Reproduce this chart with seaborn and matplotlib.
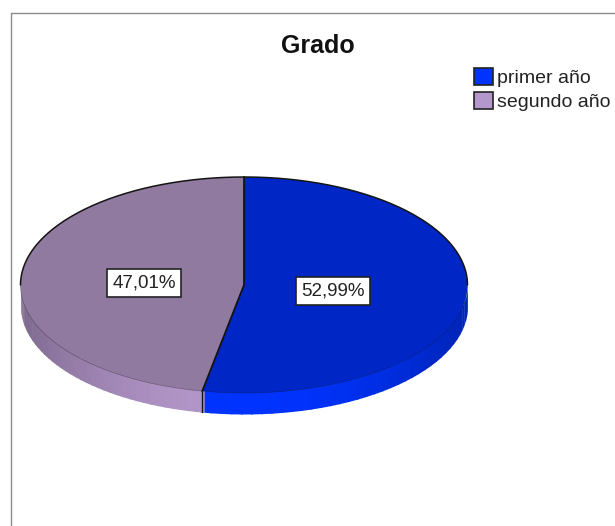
import numpy as np
import matplotlib
matplotlib.use("Agg")
import matplotlib.pyplot as plt
from matplotlib.colors import to_rgb
from matplotlib.lines import Line2D
from matplotlib.patches import Patch
import seaborn as sns

# Data
categories = ["primer año", "segundo año"]
shares = [52.99, 47.01]
share_labels = ["52,99%", "47,01%"]
legend_colors = ["#0033FF", "#B497CB"]
top_colors = ["#0027C6", "#917AA0"]

sns.set_theme(style="white")
plt.rcParams['font.family'] = ['Liberation Sans', 'DejaVu Sans']

W, H = 615, 526
CX, CY = 244, 285      # pie centre in pixels
RX, RY = 223.5, 108    # ellipse radii in pixels
DEPTH = 21 / RY        # height of the side in axis units

fig = plt.figure(figsize=(W / 100, H / 100), dpi=100, facecolor="white")
ax = fig.add_axes([0, 0, 1, 1])

wedges, _ = ax.pie(shares, startangle=90, counterclock=False, colors=top_colors,
                   wedgeprops={"edgecolor": "none", "linewidth": 0, "zorder": 5})

# Angle of the second boundary between the slices
split_deg = 90 - shares[0] / sum(shares) * 360 + 360

# Side of the disc, shaded in thin strips; strips run on under the top face to avoid seams
for (start, stop), base in zip([(split_deg - 0.6, 360), (180, split_deg)], legend_colors):
    edges = np.linspace(start, stop, 40)
    for t0, t1 in zip(edges[:-1], edges[1:]):
        th = np.radians(np.linspace(t0, t1 + 0.5, 6))
        mid = np.radians((t0 + t1) / 2)
        k = 0.7 + 0.3 * abs(np.sin(mid)) ** 2
        ax.fill_between(np.cos(th), np.sin(th) - DEPTH, np.sin(th) * 0.9,
                        color=np.array(to_rgb(base)) * k, lw=0, zorder=2)

# Dark outline on the upper arc and the slice boundaries, faint edge on the lower arc
dark = "#141414"
th = np.radians(np.linspace(0, 180, 200))
ax.plot(np.cos(th), np.sin(th), color=dark, lw=1.1, zorder=6)
th = np.radians(np.linspace(180, 360, 200))
ax.plot(np.cos(th), np.sin(th), color=dark, lw=0.5, alpha=0.35, zorder=6)
split = np.radians(split_deg)
ax.plot([0, 0], [1, 0], color=dark, lw=1.3, zorder=6)
ax.plot([0, np.cos(split)], [0, np.sin(split)], color=dark, lw=1.3, zorder=6)
ax.plot([np.cos(split)] * 2, [np.sin(split), np.sin(split) - DEPTH], color=dark, lw=1.0, zorder=4)

ax.set_aspect("auto")
ax.set_xlim(-CX / RX, (W - CX) / RX)
ax.set_ylim((CY - H) / RY, CY / RY)
ax.axis("off")


def px(x, y):
    return x / W, 1 - y / H


# Value labels
box = {"boxstyle": "square,pad=0.28", "facecolor": "white", "edgecolor": "#222222", "linewidth": 1.2}
for (x, y), lab in zip([(333, 291), (144, 283)], share_labels):
    fig.text(*px(x, y), lab, ha="center", va="center", fontsize=13.5, color="#222222", bbox=box, zorder=10)

fig.text(*px(318, 46), "Grado", ha="center", va="center", fontsize=18, fontweight="bold", color="#111111")

handles = [Patch(facecolor=c, edgecolor="#222222", linewidth=1.2) for c in legend_colors]
fig.legend(handles, categories, loc="upper left", bbox_to_anchor=px(474, 68), frameon=False,
           fontsize=14, handlelength=0.98, handleheight=0.95, handletextpad=0.2,
           labelspacing=0.25, borderpad=0, borderaxespad=0, labelcolor="#222222")

# Frame around the chart: only left and top are visible
fig.add_artist(Line2D([11 / W, 11 / W], [0, 1 - 13 / H], color="#8c8c8c", lw=1.0))
fig.add_artist(Line2D([11 / W, 1], [1 - 13 / H, 1 - 13 / H], color="#8c8c8c", lw=1.0))

fig.savefig("out.png", dpi=100)
